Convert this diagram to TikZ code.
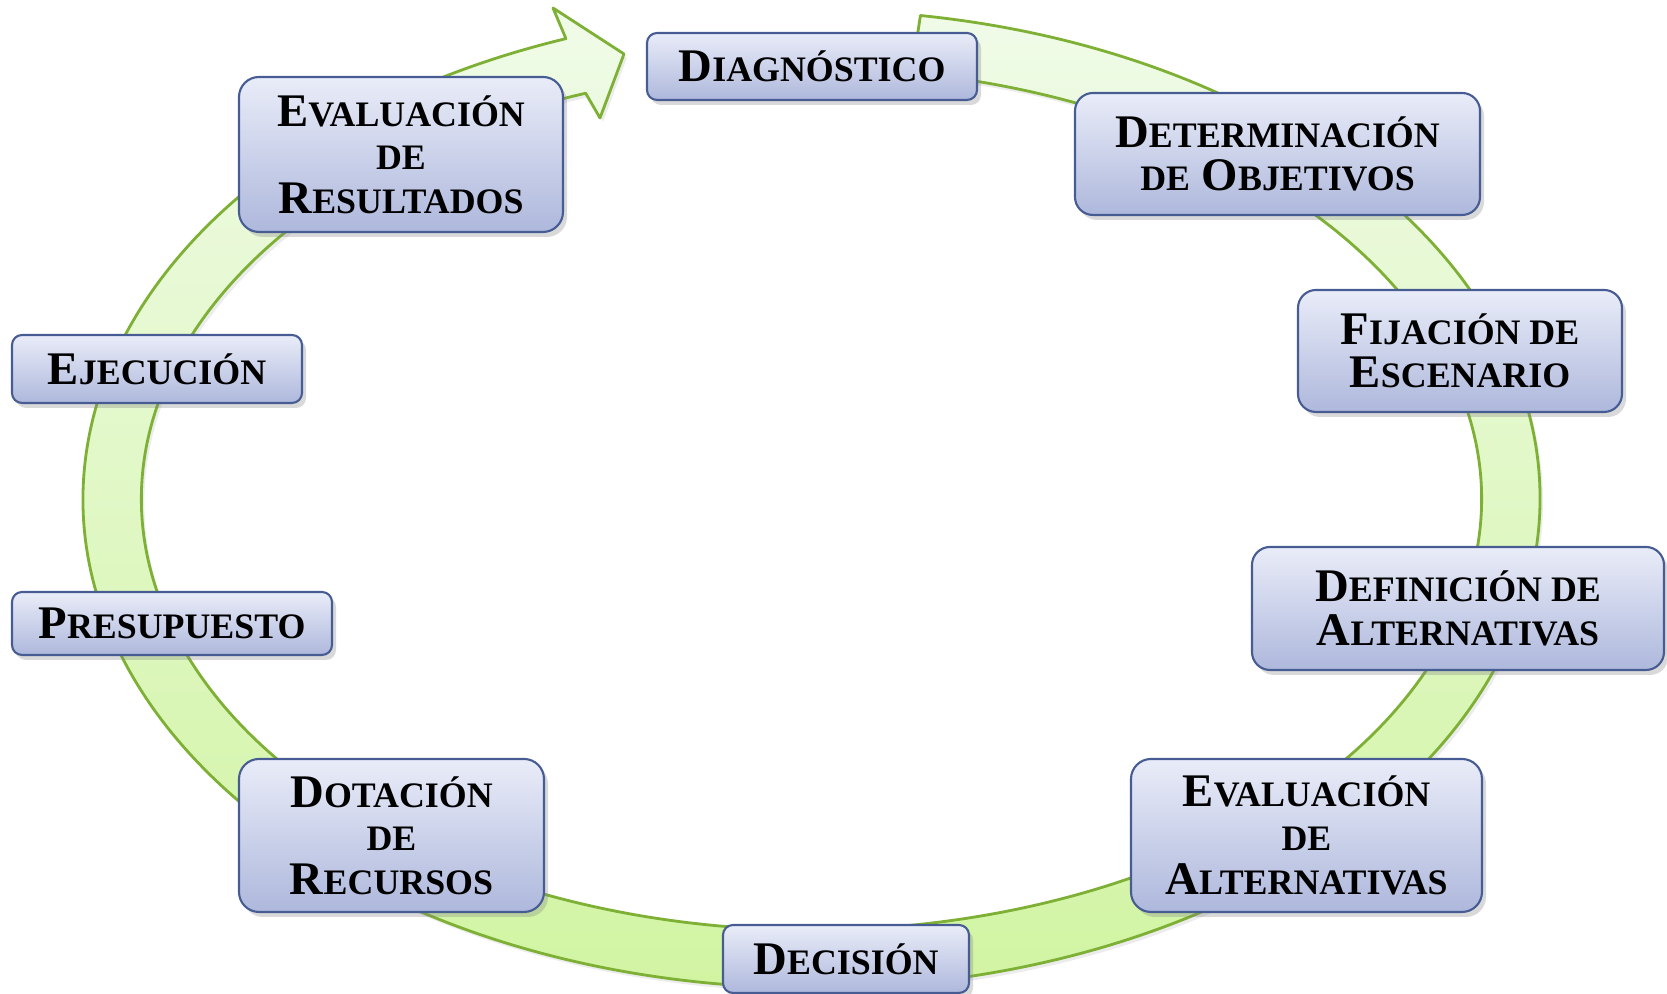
\documentclass[tikz,border=0pt]{standalone}
\usepackage{fontspec}
\setmainfont{Liberation Serif}
\usetikzlibrary{calc,shadows}

\definecolor{ringline}{RGB}{125,176,52}
\definecolor{ringtop}{RGB}{240,251,232}
\definecolor{ringbot}{RGB}{208,244,160}
\definecolor{boxline}{RGB}{72,92,148}
\definecolor{boxtop}{RGB}{233,236,248}
\definecolor{boxbot}{RGB}{174,184,220}

% small capitals made by hand
\newcommand{\sm}[1]{{\fontsize{10.2}{12}\selectfont #1}}

\tikzset{
  stage/.style={draw=boxline,line width=0.6pt,top color=boxtop,bottom color=boxbot,
    rounded corners=#1,align=center,inner sep=0pt,
    font=\fontsize{13.3}{12.4}\selectfont\bfseries,
    drop shadow={shadow xshift=0.4mm,shadow yshift=-0.5mm,opacity=0.3}},
  stage/.default=1mm,
  ring/.style={draw=ringline,line width=0.8pt,top color=ringtop,bottom color=ringbot,
    line join=round,drop shadow={shadow xshift=0.3mm,shadow yshift=-0.4mm,opacity=0.15}}
}

\begin{document}
\begin{tikzpicture}
  \useasboundingbox (0,0) rectangle (16.67,9.94);
  \coordinate (c) at (8.115,4.95);
  % the cycle
  \draw[ring] ($(c)+(81.4:7.285cm and 4.89cm)$)
    arc[start angle=81.4,end angle=-250.3,x radius=7.285cm,y radius=4.89cm]
    -- (5.53,9.86) -- (6.24,9.40) -- (6.00,8.76)
    -- ($(c)+(109.7:6.70cm and 4.31cm)$)
    arc[start angle=109.7,end angle=441.4,x radius=6.70cm,y radius=4.31cm] -- cycle;

  \node[stage,minimum width=3.30cm,minimum height=0.67cm] (diag) at (8.12,9.275)
    {D\sm{IAGNÓSTICO}};
  \node[stage=1.8mm,minimum width=4.05cm,minimum height=1.22cm] (objetivos) at (12.775,8.40)
    {D\sm{ETERMINACIÓN}\\\sm{DE} O\sm{BJETIVOS}};
  \node[stage=1.8mm,minimum width=3.24cm,minimum height=1.22cm] (escenario) at (14.60,6.43)
    {F\sm{IJACIÓN DE}\\E\sm{SCENARIO}};
  \node[stage=1.8mm,minimum width=4.12cm,minimum height=1.23cm] (alternativas) at (14.58,3.855)
    {D\sm{EFINICIÓN DE}\\A\sm{LTERNATIVAS}};
  \node[stage=2mm,minimum width=3.51cm,minimum height=1.53cm] (evalalt) at (13.065,1.585)
    {E\sm{VALUACIÓN}\\\sm{DE}\\A\sm{LTERNATIVAS}};
  \node[stage,minimum width=2.46cm,minimum height=0.68cm] (decision) at (8.46,0.35)
    {D\sm{ECISIÓN}};
  \node[stage=2mm,minimum width=3.05cm,minimum height=1.53cm] (dotacion) at (3.915,1.585)
    {D\sm{OTACIÓN}\\\sm{DE}\\R\sm{ECURSOS}};
  \node[stage,minimum width=3.20cm,minimum height=0.63cm] (presupuesto) at (1.72,3.705)
    {P\sm{RESUPUESTO}};
  \node[stage,minimum width=2.90cm,minimum height=0.68cm] (ejecucion) at (1.57,6.25)
    {E\sm{JECUCIÓN}};
  \node[stage=2mm,minimum width=3.24cm,minimum height=1.55cm] (evalres) at (4.01,8.395)
    {E\sm{VALUACIÓN}\\\sm{DE}\\R\sm{ESULTADOS}};
\end{tikzpicture}
\end{document}
